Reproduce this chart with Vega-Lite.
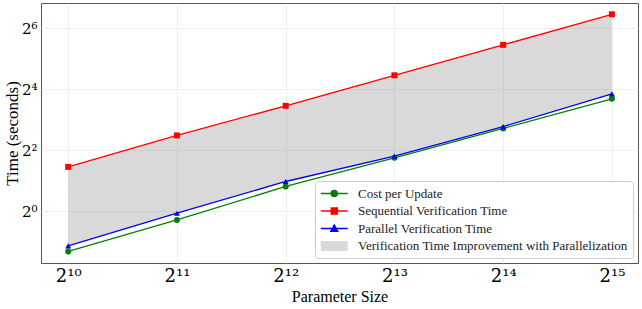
{
  "$schema": "https://vega.github.io/schema/vega-lite/v6.json",
  "width": 597,
  "height": 260,
  "autosize": {"type": "none"},
  "padding": {"left": 41, "top": 3, "right": 4, "bottom": 46},
  "background": "white",
  "config": {
    "view": {"stroke": "#555555", "strokeWidth": 1},
    "font": "Liberation Serif",
    "axis": {
      "grid": true,
      "gridColor": "#ebebeb",
      "gridWidth": 0.8,
      "domain": false,
      "ticks": false,
      "labelFont": "DejaVu Serif",
      "titleFont": "Liberation Serif",
      "labelColor": "#000000",
      "titleColor": "#000000",
      "titleFontWeight": "normal"
    }
  },
  "data": {
    "values": [
      {"size": 1024, "series": "Cost per Update", "time": 0.40},
      {"size": 2048, "series": "Cost per Update", "time": 0.818},
      {"size": 4096, "series": "Cost per Update", "time": 1.75},
      {"size": 8192, "series": "Cost per Update", "time": 3.36},
      {"size": 16384, "series": "Cost per Update", "time": 6.54},
      {"size": 32768, "series": "Cost per Update", "time": 12.82},
      {"size": 1024, "series": "Sequential Verification Time", "time": 2.73},
      {"size": 2048, "series": "Sequential Verification Time", "time": 5.58},
      {"size": 4096, "series": "Sequential Verification Time", "time": 10.93},
      {"size": 8192, "series": "Sequential Verification Time", "time": 21.86},
      {"size": 16384, "series": "Sequential Verification Time", "time": 43.7},
      {"size": 32768, "series": "Sequential Verification Time", "time": 87.4},
      {"size": 1024, "series": "Parallel Verification Time", "time": 0.454},
      {"size": 2048, "series": "Parallel Verification Time", "time": 0.953},
      {"size": 4096, "series": "Parallel Verification Time", "time": 1.96},
      {"size": 8192, "series": "Parallel Verification Time", "time": 3.48},
      {"size": 16384, "series": "Parallel Verification Time", "time": 6.82},
      {"size": 32768, "series": "Parallel Verification Time", "time": 14.32}
    ]
  },
  "encoding": {
    "x": {
      "field": "size",
      "type": "quantitative",
      "scale": {"type": "log", "base": 2, "domain": [861, 38700], "nice": false},
      "axis": {
        "title": "Parameter Size",
        "values": [1024, 2048, 4096, 8192, 16384, 32768],
        "labelExpr": "'2' + replace(replace(replace(replace(replace(replace(replace(format(round(log(datum.value)/log(2)),'d'),regexp('0','g'),'⁰'),regexp('1','g'),'¹'),regexp('2','g'),'²'),regexp('3','g'),'³'),regexp('4','g'),'⁴'),regexp('5','g'),'⁵'),regexp('6','g'),'⁶')",
        "labelFontSize": 18,
        "labelPadding": 4,
        "titleFontSize": 16,
        "titlePadding": 3
      }
    }
  },
  "layer": [
    {
      "transform": [{"pivot": "series", "value": "time", "groupby": ["size"]}],
      "mark": {"type": "area", "opacity": 0.3},
      "encoding": {
        "y": {"field": "Sequential Verification Time", "type": "quantitative"},
        "y2": {"field": "Parallel Verification Time"},
        "color": {"datum": "Verification Time Improvement with Parallelization", "type": "nominal"}
      }
    },
    {
      "mark": {"type": "line", "strokeWidth": 1.3},
      "encoding": {
        "y": {
          "field": "time",
          "type": "quantitative",
          "scale": {"type": "log", "base": 2, "domain": [0.3078, 112.97], "nice": false},
          "axis": {
            "title": "Time (seconds)",
            "values": [1, 4, 16, 64],
            "labelExpr": "'2' + replace(replace(replace(replace(format(round(log(datum.value)/log(2)),'d'),regexp('0','g'),'⁰'),regexp('2','g'),'²'),regexp('4','g'),'⁴'),regexp('6','g'),'⁶')",
            "labelFontSize": 15,
            "labelPadding": 4,
            "titleFontSize": 17,
            "titleX": -29,
            "titleBaseline": "middle",
            "titleAnchor": "middle"
          }
        },
        "color": {
          "field": "series",
          "type": "nominal",
          "scale": {
            "domain": ["Cost per Update", "Sequential Verification Time", "Parallel Verification Time", "Verification Time Improvement with Parallelization"],
            "range": ["#008000", "#ff0000", "#0000ff", "#808080"]
          },
          "legend": {
            "title": null,
            "orient": "bottom-right",
            "offset": 5,
            "fillColor": "white",
            "strokeColor": "#cccccc",
            "cornerRadius": 3,
            "padding": 5,
            "labelFont": "Liberation Serif",
            "labelFontSize": 13,
            "labelColor": "#222222",
            "labelLimit": 400,
            "symbolSize": 182,
            "labelOffset": 23,
            "rowPadding": 2.5,
            "encode": {
              "symbols": {
                "update": {
                  "shape": {"signal": "datum.value === 'Cost per Update' ? 'M-1,0H3M1.44,0A0.44,0.44,0,1,1,0.56,0A0.44,0.44,0,1,1,1.44,0Z' : datum.value === 'Sequential Verification Time' ? 'M-1,0H3M0.56,-0.44H1.44V0.44H0.56Z' : datum.value === 'Parallel Verification Time' ? 'M-1,0H3M1,-0.5L1.5,0.4H0.5Z' : 'M-1,-0.74H3V0.74H-1Z'"},
                  "fill": {"signal": "scale('color', datum.value)"},
                  "stroke": {"signal": "scale('color', datum.value)"},
                  "strokeWidth": {"value": 1.5},
                  "fillOpacity": {"signal": "datum.value === 'Verification Time Improvement with Parallelization' ? 0.3 : 1"},
                  "strokeOpacity": {"signal": "datum.value === 'Verification Time Improvement with Parallelization' ? 0 : 1"},
                  "opacity": {"value": 1}
                }
              }
            }
          }
        }
      }
    },
    {
      "mark": {"type": "point", "filled": true, "opacity": 1, "size": 36},
      "encoding": {
        "y": {"field": "time", "type": "quantitative"},
        "color": {"field": "series", "type": "nominal"},
        "shape": {
          "field": "series",
          "type": "nominal",
          "scale": {
            "domain": ["Cost per Update", "Sequential Verification Time", "Parallel Verification Time"],
            "range": ["circle", "square", "triangle-up"]
          },
          "legend": null
        }
      }
    }
  ]
}
